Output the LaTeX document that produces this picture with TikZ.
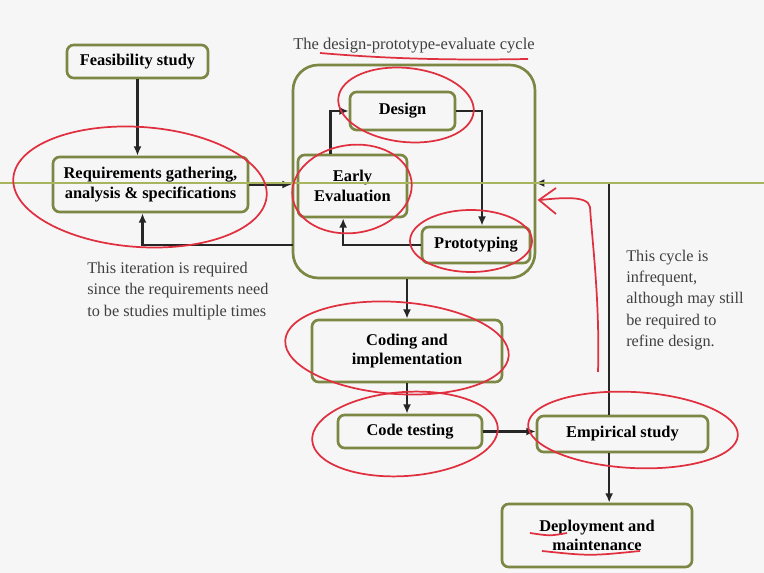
\documentclass[tikz,border=0pt]{standalone}
\usepackage{fontspec}
\setmainfont{Liberation Serif}
\usetikzlibrary{arrows.meta}
\definecolor{boxgreen}{HTML}{7C8744}
\definecolor{slideline}{HTML}{A9B45E}
\definecolor{inkred}{HTML}{E0303F}
\definecolor{paper}{HTML}{F6F6F6}
\tikzset{box/.style={draw=boxgreen,line width=2pt,rounded corners=5pt,align=center,inner sep=2pt,font=\bfseries\fontsize{12.3}{14.5}\selectfont}}
\tikzset{arw/.style={-{Latex[length=7pt,width=6pt]},line width=1.6pt,black!85}}
\tikzset{note/.style={align=left,inner sep=0pt,text=black!75,font=\fontsize{12.2}{16}\selectfont}}
\tikzset{ink/.style={draw=inkred,line width=1.3pt}}

\begin{document}
\begin{tikzpicture}[x=0.75pt,y=-0.75pt]
      \fill[paper] (0,0) rectangle (764,573);
      \useasboundingbox (0,0) rectangle (764,573);

      % boxes
      \node[box,minimum width=105.75pt,minimum height=24.75pt] (feas) at (137.5,61.5) {Feasibility study};
      \node[box,minimum width=146.25pt,minimum height=41.25pt] (req) at (150.5,184.5) {Requirements gathering,\\analysis \& specifications};
      \node[box,rounded corners=19pt,minimum width=181.5pt,minimum height=159.75pt] (cyc) at (414,171.5) {};
      \node[box,minimum width=78.75pt,minimum height=28.5pt] (des) at (402.5,111) {Design};
      \node[box,minimum width=81.75pt,minimum height=46.5pt] (eval) at (352.5,186) {Early\\Evaluation};
      \node[box,minimum width=81pt,minimum height=27pt] (proto) at (476,245) {Prototyping};
      \node[box,minimum width=142.5pt,minimum height=46.5pt] (code) at (407,351) {Coding and\\implementation};
      \node[box,minimum width=108pt,minimum height=24.75pt] (test) at (410,431.5) {Code testing};
      \node[box,minimum width=128.25pt,minimum height=27pt] (emp) at (622.5,434) {Empirical study};
      \node[box,minimum width=142.5pt,minimum height=47.25pt] (dep) at (597,535.5) {Deployment and\\maintenance};

      % texts
      \node[note,font=\fontsize{12.4}{14}\selectfont] (title) at (414,46) {The design-prototype-evaluate cycle};
      \node[note,anchor=west] (iter) at (87,291) {This iteration is required\\since the requirements need\\to be studies multiple times};
      \node[note,anchor=west] (rare) at (626,300) {This cycle is\\infrequent,\\although may still\\be required to\\refine design.};

      \coordinate (back) at (293,245);
      \coordinate (in) at (535,183);

      % connectors
      \draw[arw] (feas) -- (feas |- req.north);
      \draw[arw] (req.east) -- (req.east -| cyc.west);
      \draw[arw] (back) -| ([xshift=-6pt]req.south);
      \draw[arw] ([xshift=-16.5pt]eval.north) |- (des.west);
      \draw[arw] (des.east) -| ([xshift=4.5pt]proto.north);
      \draw[arw] (proto.west) -| ([xshift=-7pt]eval.south);
      \draw[arw] (code.north |- cyc.south) -- (code.north);
      \draw[arw] (code.south) -- (code.south |- test.north);
      \draw[arw] (test.east) -- (test.east -| emp.west);
      \draw[arw] ([xshift=-10pt]emp.south) -- ([xshift=-10pt]emp.south |- dep.north);
      \draw[arw] ([xshift=-10pt]emp.north) |- (in);

      % slide line
      \draw[slideline,line width=1.4pt] (0,183) -- (764,183);

      % red marks
      \draw[ink,rotate around={-4:(140,187)}] (140,187) ellipse (127 and 60);
      \draw[ink,rotate around={-6:(406,105)}] (406,105) ellipse (68 and 37);
      \draw[ink,rotate around={8:(352,189)}] (352,189) ellipse (60 and 44);
      \draw[ink] (471,241) ellipse (61 and 31);
      \draw[ink,rotate around={-4:(397,348)}] (397,348) ellipse (112 and 46);
      \draw[ink,rotate around={4:(405,434)}] (405,434) ellipse (93 and 42);
      \draw[ink,rotate around={-3:(633,430)}] (633,430) ellipse (105 and 38);
      \draw[ink] (320,53) .. controls (400,60) and (470,60) .. (528,59);
      \draw[ink] (598,372) .. controls (600,300) and (592,240) .. (590,207) .. controls (588,195) and (560,198) .. (540,200);
      \draw[ink] (556,188) -- (539,200) -- (556,214);
      \draw[ink] (530,533) .. controls (550,536) .. (567,533);
      \draw[ink] (542,551) .. controls (590,556) .. (640,551);
\end{tikzpicture}
\end{document}
